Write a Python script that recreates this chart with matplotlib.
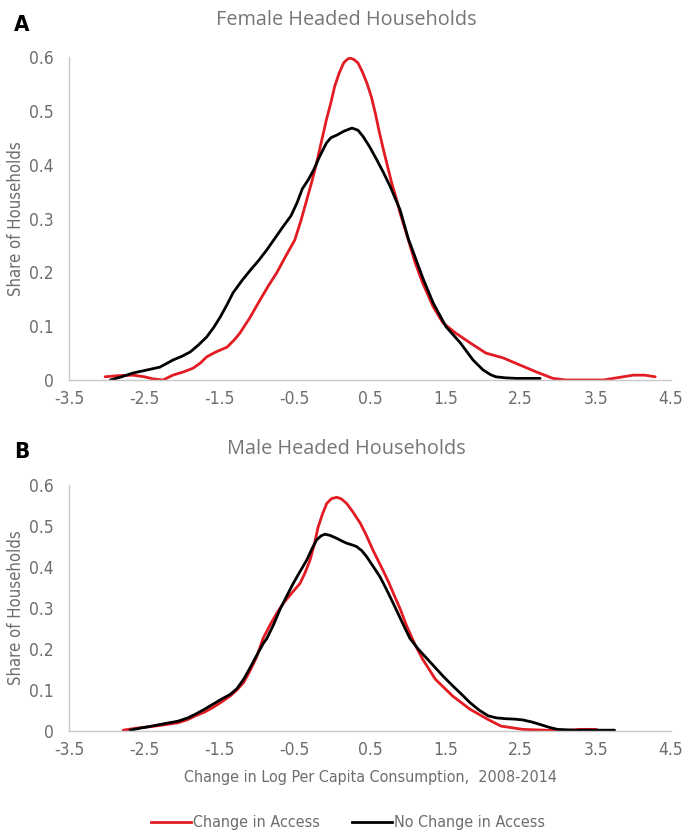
import matplotlib
matplotlib.use("Agg")
import matplotlib.pyplot as plt
from matplotlib.lines import Line2D

# Female headed households - change in access (red)
fem_chg_x = [-3.02, -2.85, -2.65, -2.50, -2.38, -2.25, -2.12, -1.98, -1.85, -1.75,
             -1.67, -1.55, -1.40, -1.30, -1.23, -1.10, -0.96, -0.85, -0.74, -0.62,
             -0.50, -0.42, -0.34, -0.27, -0.21, -0.15, -0.08, -0.02, 0.03, 0.09,
             0.15, 0.20, 0.24, 0.29, 0.34, 0.40, 0.46, 0.52, 0.57, 0.62,
             0.68, 0.74, 0.79, 0.85, 0.90, 1.01, 1.10, 1.20, 1.34, 1.47,
             1.64, 1.83, 2.04, 2.27, 2.49, 2.71, 2.93, 3.10, 3.30, 3.60,
             3.82, 4.00, 4.15, 4.29]
fem_chg_y = [0.006, 0.008, 0.009, 0.006, 0.002, 0.000, 0.009, 0.015, 0.022, 0.032,
             0.043, 0.052, 0.061, 0.075, 0.087, 0.115, 0.149, 0.175, 0.199, 0.230,
             0.260, 0.295, 0.335, 0.370, 0.403, 0.440, 0.483, 0.515, 0.545, 0.570,
             0.589, 0.596, 0.598, 0.595, 0.589, 0.572, 0.551, 0.525, 0.496, 0.463,
             0.427, 0.393, 0.365, 0.337, 0.310, 0.260, 0.218, 0.180, 0.136, 0.106,
             0.087, 0.069, 0.050, 0.041, 0.028, 0.015, 0.003, 0.000, 0.000, 0.000,
             0.005, 0.009, 0.009, 0.006]

# Female headed households - no change in access (black)
fem_noc_x = [-2.95, -2.80, -2.65, -2.45, -2.29, -2.12, -2.00, -1.89, -1.78, -1.67,
             -1.58, -1.49, -1.40, -1.32, -1.20, -1.09, -0.98, -0.87, -0.78, -0.66,
             -0.55, -0.47, -0.40, -0.32, -0.25, -0.17, -0.08, -0.02, 0.06, 0.15,
             0.26, 0.34, 0.41, 0.50, 0.59, 0.68, 0.77, 0.90, 1.01, 1.10,
             1.20, 1.34, 1.51, 1.70, 1.87, 2.00, 2.10, 2.17, 2.30, 2.44,
             2.60, 2.76]
fem_noc_y = [0.000, 0.006, 0.013, 0.019, 0.024, 0.037, 0.044, 0.052, 0.065, 0.080,
             0.097, 0.117, 0.140, 0.162, 0.185, 0.204, 0.222, 0.242, 0.260, 0.284,
             0.305, 0.329, 0.355, 0.372, 0.390, 0.415, 0.440, 0.450, 0.455, 0.462,
             0.468, 0.464, 0.452, 0.432, 0.409, 0.385, 0.359, 0.316, 0.262, 0.228,
             0.190, 0.143, 0.099, 0.069, 0.037, 0.019, 0.010, 0.006, 0.004, 0.003,
             0.003, 0.003]

# Male headed households - change in access (red)
male_chg_x = [-2.78, -2.60, -2.40, -2.20, -2.05, -1.92, -1.82, -1.70, -1.59, -1.48,
              -1.36, -1.27, -1.18, -1.10, -1.01, -0.92, -0.83, -0.74, -0.65, -0.56,
              -0.50, -0.43, -0.37, -0.30, -0.24, -0.19, -0.13, -0.075, -0.01, 0.06,
              0.12, 0.19, 0.27, 0.37, 0.45, 0.54, 0.61, 0.68, 0.75, 0.81,
              0.90, 0.99, 1.10, 1.20, 1.37, 1.60, 1.83, 2.07, 2.24, 2.53,
              2.82, 3.05, 3.28, 3.51]
male_chg_y = [0.002, 0.007, 0.011, 0.016, 0.020, 0.028, 0.037, 0.046, 0.057, 0.070,
              0.085, 0.100, 0.118, 0.145, 0.179, 0.226, 0.258, 0.287, 0.312, 0.332,
              0.345, 0.360, 0.383, 0.415, 0.455, 0.497, 0.530, 0.555, 0.567, 0.570,
              0.566, 0.555, 0.535, 0.507, 0.478, 0.441, 0.415, 0.389, 0.362, 0.336,
              0.298, 0.255, 0.210, 0.175, 0.126, 0.085, 0.053, 0.028, 0.012, 0.004,
              0.002, 0.000, 0.004, 0.004]

# Male headed households - no change in access (black)
male_noc_x = [-2.69, -2.55, -2.40, -2.20, -2.05, -1.92, -1.82, -1.70, -1.59, -1.48,
              -1.36, -1.27, -1.18, -1.10, -1.01, -0.92, -0.87, -0.78, -0.70, -0.61,
              -0.52, -0.43, -0.34, -0.27, -0.21, -0.15, -0.098, -0.03, 0.057, 0.12,
              0.19, 0.26, 0.32, 0.39, 0.456, 0.54, 0.633, 0.72, 0.81, 0.92,
              1.03, 1.14, 1.25, 1.37, 1.48, 1.60, 1.72, 1.83, 1.95, 2.07,
              2.18, 2.30, 2.42, 2.53, 2.65, 2.76, 2.88, 2.99, 3.22, 3.57,
              3.75]
male_noc_y = [0.002, 0.007, 0.012, 0.019, 0.024, 0.032, 0.041, 0.053, 0.065, 0.077,
              0.089, 0.103, 0.126, 0.152, 0.183, 0.213, 0.226, 0.260, 0.295, 0.328,
              0.360, 0.389, 0.417, 0.445, 0.466, 0.476, 0.480, 0.477, 0.470, 0.464,
              0.458, 0.454, 0.450, 0.440, 0.425, 0.402, 0.376, 0.345, 0.311, 0.268,
              0.226, 0.200, 0.178, 0.154, 0.132, 0.110, 0.089, 0.069, 0.051, 0.037,
              0.032, 0.030, 0.029, 0.027, 0.022, 0.016, 0.009, 0.004, 0.002, 0.002,
              0.002]

x_ticks = [-3.5, -2.5, -1.5, -0.5, 0.5, 1.5, 2.5, 3.5, 4.5]
y_ticks = [0, 0.1, 0.2, 0.3, 0.4, 0.5, 0.6]
y_ticklabels = ["0", "0.1", "0.2", "0.3", "0.4", "0.5", "0.6"]

RED = "#e31b23"
GRAY = "#6d6d6d"
NARROW = dict(family="DejaVu Sans", stretch="condensed")

W, H = 686, 833
fig = plt.figure(figsize=(W / 100, H / 100), dpi=100)


def px_box(left, top, right, bottom):
    return [left / W, 1 - bottom / H, (right - left) / W, (bottom - top) / H]


def style_axes(ax):
    ax.set_xlim(-3.5, 4.5)
    ax.set_ylim(0, 0.6)
    ax.set_xticks(x_ticks)
    ax.set_xticklabels([f"{t:g}" for t in x_ticks])
    ax.set_yticks(y_ticks)
    ax.set_yticklabels(y_ticklabels)
    for s in ["top", "right"]:
        ax.spines[s].set_visible(False)
    for s in ["left", "bottom"]:
        ax.spines[s].set_color("#c8c8c8")
        ax.spines[s].set_linewidth(1.0)
    ax.tick_params(axis="x", length=0, pad=7, labelcolor=GRAY, labelsize=12.5)
    ax.tick_params(axis="y", length=0, pad=11, labelcolor=GRAY, labelsize=12.5)
    for lab in ax.get_xticklabels() + ax.get_yticklabels():
        lab.set_family(NARROW["family"])
        lab.set_stretch(NARROW["stretch"])
    ax.set_ylabel("Share of Households", color=GRAY, fontsize=12,
                  labelpad=3, **NARROW)
    ax.patch.set_alpha(0)


# top panel
ax1 = fig.add_axes(px_box(69, 57, 671, 380))
ax1.plot(fem_chg_x, fem_chg_y, color=RED, lw=2.0, solid_capstyle="round")
ax1.plot(fem_noc_x, fem_noc_y, color="black", lw=2.0, solid_capstyle="round")
style_axes(ax1)

# bottom panel
ax2 = fig.add_axes(px_box(69, 485, 671, 731))
ax2.plot(male_chg_x, male_chg_y, color=RED, lw=2.0, solid_capstyle="round")
ax2.plot(male_noc_x, male_noc_y, color="black", lw=2.0, solid_capstyle="round")
style_axes(ax2)
ax2.set_xlabel("Change in Log Per Capita Consumption,  2008-2014", color=GRAY,
               fontsize=11.5, labelpad=8, **NARROW)

# panel titles and letters
fig.text(346 / W, 1 - 20 / H, "Female Headed Households", ha="center", va="center",
         color="#767676", fontsize=14.3, family=["Open Sans", "DejaVu Sans"])
fig.text(346 / W, 1 - 449 / H, "Male Headed Households", ha="center", va="center",
         color="#767676", fontsize=14.3, family=["Open Sans", "DejaVu Sans"])
fig.text(22 / W, 1 - 25 / H, "A", ha="center", va="center", color="black",
         fontsize=16, fontweight="bold", **NARROW)
fig.text(22 / W, 1 - 452 / H, "B", ha="center", va="center", color="black",
         fontsize=16, fontweight="bold", **NARROW)

# legend
handles = [Line2D([], [], color=RED, lw=2.0), Line2D([], [], color="black", lw=2.0)]
fig.legend(handles, ["Change in Access", "No Change in Access"],
           loc="center", bbox_to_anchor=(348 / W, 1 - 823 / H), ncol=2,
           frameon=False, handlelength=2.5, handletextpad=0.15, columnspacing=2.0,
           prop={"family": "DejaVu Sans", "stretch": "condensed", "size": 11.5},
           labelcolor=GRAY)

fig.savefig("out.png", dpi=100)
